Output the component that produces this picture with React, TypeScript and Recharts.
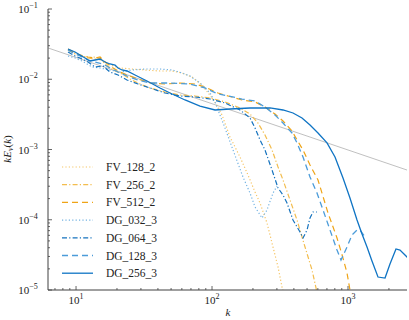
import React from 'react';
import { LineChart, Line, XAxis, YAxis, Legend } from 'recharts';

// reference slope line (k^-2/3)
const REF_K = [6.22, 2716];
const REF_E = [0.0279, 0.00051];

const FV_128_2_K = [8.73, 9.83, 11.07, 12.25, 13.8, 15.02, 17.78, 21.06, 25.81, 32.17, 41.45, 50.8, 60.18, 71.28, 84.43, 100, 110.7, 118.4, 135.6, 160.6, 183.9, 207.2, 225.4, 253.8, 280.9, 305.8, 327.1, 344.3];
const FV_128_2_E = [0.02609, 0.02364, 0.02143, 0.02007, 0.02074, 0.01879, 0.01595, 0.01446, 0.01399, 0.01354, 0.01311, 0.01311, 0.01227, 0.01076, 0.00828, 0.00541, 0.00403, 0.0031, 0.00151, 0.000782, 0.000434, 0.000248, 0.000173, 0.0000899, 0.0000409, 0.0000213, 0.000011, 0.0000077];

const FV_256_2_K = [8.73, 9.83, 10.7, 12.25, 13.8, 15.02, 16.34, 18.71, 21.79, 24.95, 29.55, 35.0, 45.11, 58.17, 74.99, 96.7, 124.6, 160.6, 190.3, 217.9, 245.3, 276.2, 305.8, 332.8, 374.6, 421.7, 483.0, 543.8, 581.8, 601.8];
const FV_256_2_E = [0.02609, 0.02288, 0.02214, 0.02007, 0.01942, 0.02007, 0.01649, 0.01354, 0.01188, 0.01008, 0.00856, 0.00751, 0.00658, 0.00597, 0.00578, 0.00541, 0.00475, 0.0039, 0.0032, 0.00238, 0.00161, 0.000984, 0.000563, 0.000368, 0.000191, 0.0000992, 0.0000409, 0.0000193, 0.0000107, 0.0000077];

const FV_512_2_K = [8.73, 9.83, 10.7, 12.25, 13.8, 15.02, 15.79, 17.78, 20.36, 23.71, 28.57, 35.0, 45.11, 58.17, 74.99, 88.8, 110.7, 131.1, 166.2, 207.2, 245.3, 290.6, 332.8, 387.4, 421.7, 466.9, 525.6, 601.8, 712.9, 830.2, 918.9, 983.1, 1034, 1088];
const FV_512_2_E = [0.02695, 0.02364, 0.02214, 0.02074, 0.02007, 0.02074, 0.01879, 0.01544, 0.01311, 0.01149, 0.01008, 0.00884, 0.00856, 0.00884, 0.00856, 0.00776, 0.00637, 0.00578, 0.00507, 0.00475, 0.00403, 0.0032, 0.002544, 0.001834, 0.00137, 0.000984, 0.000602, 0.000368, 0.000125, 0.000055, 0.0000285, 0.0000175, 0.00001, 0.0000072];

const DG_032_3_K = [8.73, 9.83, 11.07, 13.11, 15.02, 17.78, 21.06, 25.81, 32.17, 41.45, 50.8, 60.18, 68.9, 81.6, 96.7, 105.2, 110.7, 124.6, 142.7, 169.0, 190.3, 207.2, 233.2, 253.8, 280.9, 300.7];
const DG_032_3_E = [0.02143, 0.02007, 0.01819, 0.01494, 0.01446, 0.01354, 0.01268, 0.01354, 0.01399, 0.01399, 0.01354, 0.01227, 0.01112, 0.00884, 0.00637, 0.00475, 0.00365, 0.00202, 0.000984, 0.000406, 0.00024, 0.000152, 0.000106, 0.000138, 0.00024, 0.000302];

const DG_064_3_K = [8.73, 9.83, 10.7, 12.25, 13.8, 15.79, 17.78, 20.36, 23.71, 28.57, 35.0, 45.11, 58.17, 74.99, 96.7, 124.6, 160.6, 190.3, 207.2, 225.4, 245.3, 276.2, 305.8, 332.8, 356.1, 394.1, 443.7, 466.9, 499.6, 525.6, 552.9, 591.6];
const DG_064_3_E = [0.02443, 0.02143, 0.02007, 0.0176, 0.01494, 0.01544, 0.01268, 0.01149, 0.00976, 0.00856, 0.00751, 0.00637, 0.00578, 0.00559, 0.00523, 0.00459, 0.00365, 0.00281, 0.00202, 0.00137, 0.000984, 0.000511, 0.000283, 0.000225, 0.000173, 0.0000992, 0.0000669, 0.000055, 0.0000714, 0.000106, 0.000129, 0.000129];

const DG_128_3_K = [8.73, 9.83, 10.7, 12.25, 13.8, 15.79, 17.78, 20.36, 23.71, 28.57, 35.0, 49.11, 68.9, 88.8, 110.7, 131.1, 166.2, 207.2, 245.3, 290.6, 332.8, 387.4, 421.7, 466.9, 525.6, 591.6, 655.1, 737.5, 830.2, 888.3, 983.1, 1070, 1165, 1225, 1334];
const DG_128_3_E = [0.02609, 0.02288, 0.02143, 0.01879, 0.0176, 0.01649, 0.01446, 0.01268, 0.01112, 0.00976, 0.00884, 0.00884, 0.00856, 0.00751, 0.00617, 0.00578, 0.00523, 0.0049, 0.00403, 0.0031, 0.00238, 0.00172, 0.00124, 0.000782, 0.000406, 0.00024, 0.000138, 0.0000714, 0.0000371, 0.0000267, 0.0000409, 0.0000607, 0.0000714, 0.0000714, 0.0000568];

const DG_256_3_K = [8.73, 9.83, 10.7, 11.65, 12.67, 13.8, 15.02, 16.34, 17.78, 19.36, 20.36, 21.79, 23.71, 27.15, 33.27, 41.45, 49.11, 63.3, 81.6, 105.2, 135.6, 190.3, 267.0, 332.8, 394.1, 459.0, 525.6, 601.8, 700.9, 802.5, 918.9, 1034, 1165, 1268, 1380, 1501, 1662, 1872, 2036, 2254, 2412, 2581, 2809];
const DG_256_3_E = [0.02695, 0.02443, 0.02214, 0.02007, 0.01819, 0.01879, 0.01942, 0.0176, 0.01649, 0.01595, 0.01446, 0.01354, 0.01311, 0.01149, 0.00944, 0.00751, 0.00637, 0.00507, 0.00416, 0.00365, 0.00377, 0.0039, 0.0039, 0.00365, 0.00331, 0.00281, 0.00223, 0.00172, 0.00124, 0.000782, 0.000393, 0.000204, 0.0000992, 0.0000627, 0.0000409, 0.0000259, 0.0000153, 0.0000148, 0.0000234, 0.0000384, 0.0000371, 0.0000326, 0.0000276];

const X_MAJOR = [10, 100, 1000];
const X_MINOR = [7, 8, 9, 20, 30, 40, 50, 60, 70, 80, 90, 200, 300, 400, 500, 600, 700, 800, 900, 2000];
const Y_MAJOR = [1e-5, 1e-4, 1e-3, 1e-2, 1e-1];
const Y_MINOR = [
  2e-5, 3e-5, 4e-5, 5e-5, 6e-5, 7e-5, 8e-5, 9e-5,
  2e-4, 3e-4, 4e-4, 5e-4, 6e-4, 7e-4, 8e-4, 9e-4,
  2e-3, 3e-3, 4e-3, 5e-3, 6e-3, 7e-3, 8e-3, 9e-3,
  2e-2, 3e-2, 4e-2, 5e-2, 6e-2, 7e-2, 8e-2, 9e-2,
];

const X_DOMAIN = [6.22, 2716];
const Y_DOMAIN = [1e-5, 1e-1];

const zip = (ks: number[], es: number[]) => ks.map((k, i) => ({ k, e: es[i] }));

const ORANGE = '#EFA416';
const SERIES = [
  { name: 'FV_128_2', data: zip(FV_128_2_K, FV_128_2_E), color: '#F5C566', dash: '1.2 2.2', width: 1.2 },
  { name: 'FV_256_2', data: zip(FV_256_2_K, FV_256_2_E), color: '#F3BD4E', dash: '5 2.2 1.2 2.2', width: 1.2 },
  { name: 'FV_512_2', data: zip(FV_512_2_K, FV_512_2_E), color: ORANGE, dash: '6 4', width: 1.2 },
  { name: 'DG_032_3', data: zip(DG_032_3_K, DG_032_3_E), color: '#72B2E2', dash: '1.2 2.2', width: 1.2 },
  { name: 'DG_064_3', data: zip(DG_064_3_K, DG_064_3_E), color: '#1673BE', dash: '5 2.2 1.2 2.2', width: 1.2 },
  { name: 'DG_128_3', data: zip(DG_128_3_K, DG_128_3_E), color: '#4C9CD9', dash: '6 4', width: 1.3 },
  { name: 'DG_256_3', data: zip(DG_256_3_K, DG_256_3_E), color: '#0F74C4', dash: undefined, width: 1.3 },
];

const REF_DATA = zip(REF_K, REF_E);

const AX = '#404040';
const FONT = "'Liberation Serif', 'Times New Roman', serif";

const isMajor = (v: number) => Math.abs(Math.log10(v) - Math.round(Math.log10(v))) < 1e-6;
const expOf = (v: number) => {
  const n = Math.round(Math.log10(v));
  return n < 0 ? '\u2212' + Math.abs(n) : String(n);
};

const BottomTick = (props: any) => {
  const { x, y, payload } = props;
  const v = payload.value;
  const major = isMajor(v);
  return (
    <g>
      <line x1={x} x2={x} y1={y} y2={y - (major ? 4 : 2)} stroke={AX} strokeWidth={0.8} />
      {major && (
        <text x={x} y={y + 14} textAnchor="middle" fontFamily={FONT} fontSize={11} fill="#222">
          10<tspan dy={-5} fontSize={8}>{expOf(v)}</tspan>
        </text>
      )}
    </g>
  );
};

const TopTick = (props: any) => {
  const { x, y, payload } = props;
  const major = isMajor(payload.value);
  return <line x1={x} x2={x} y1={y} y2={y + (major ? 4 : 2)} stroke={AX} strokeWidth={0.8} />;
};

const LeftTick = (props: any) => {
  const { x, y, payload } = props;
  const v = payload.value;
  const major = isMajor(v);
  return (
    <g>
      <line x1={x} x2={x + (major ? 4 : 2)} y1={y} y2={y} stroke={AX} strokeWidth={0.8} />
      {major && (
        <text x={x - 20} y={y + 4} textAnchor="middle" fontFamily={FONT} fontSize={11} fill="#222">
          10<tspan dy={-5} fontSize={8}>{expOf(v)}</tspan>
        </text>
      )}
    </g>
  );
};

const RightTick = (props: any) => {
  const { x, y, payload } = props;
  const major = isMajor(payload.value);
  return <line x1={x} x2={x - (major ? 4 : 2)} y1={y} y2={y} stroke={AX} strokeWidth={0.8} />;
};

const LegendBox = () => (
  <svg width={120} height={130} style={{ display: 'block' }}>
    {SERIES.map((s, i) => {
      const cy = 7 + i * 17.7;
      return (
        <g key={s.name}>
          <line x1={4} x2={35} y1={cy} y2={cy} stroke={s.color} strokeWidth={s.width} strokeDasharray={s.dash} />
          <text x={48} y={cy + 4} fontFamily={FONT} fontSize={11.5} fill="#222">{s.name}</text>
        </g>
      );
    })}
  </svg>
);

const YLabel = () => (
  <text x={0} y={0} transform="translate(11,149) rotate(-90)" textAnchor="middle" fontFamily={FONT} fontSize={11} fill="#222">
    <tspan fontStyle="italic">kE</tspan>
    <tspan fontStyle="italic" fontSize={8} dy={2}>v</tspan>
    <tspan dy={-2}>(</tspan>
    <tspan fontStyle="italic">k</tspan>
    <tspan>)</tspan>
  </text>
);

const XLabel = () => (
  <text x={228} y={316} textAnchor="middle" fontFamily={FONT} fontSize={11} fontStyle="italic" fill="#222">k</text>
);

export default function App() {
  return (
    <div style={{ position: 'absolute', left: 0, top: 0 }}>
      <LineChart width={409} height={320} margin={{ top: 9, right: 2, bottom: 0, left: 0 }}>
        <XAxis
          dataKey="k" type="number" scale="log" domain={X_DOMAIN} allowDataOverflow
          ticks={[...X_MAJOR, ...X_MINOR]} interval={0} height={30}
          tickSize={0} tickMargin={0} tickLine={false} tick={<BottomTick />}
          axisLine={{ stroke: AX, strokeWidth: 1 }}
          label={{ content: () => <XLabel /> }}
        />
        <XAxis
          xAxisId="top" orientation="top" dataKey="k" type="number" scale="log" domain={X_DOMAIN} allowDataOverflow
          ticks={[...X_MAJOR, ...X_MINOR]} interval={0} height={0}
          tickSize={0} tickMargin={0} tickLine={false} tick={<TopTick />}
          axisLine={{ stroke: AX, strokeWidth: 1 }}
        />
        <YAxis
          type="number" scale="log" domain={Y_DOMAIN} allowDataOverflow
          ticks={[...Y_MAJOR, ...Y_MINOR]} interval={0} width={48}
          tickSize={0} tickMargin={0} tickLine={false} tick={<LeftTick />}
          axisLine={{ stroke: AX, strokeWidth: 1 }}
          label={{ content: () => <YLabel /> }}
        />
        <YAxis
          yAxisId="right" orientation="right" type="number" scale="log" domain={Y_DOMAIN} allowDataOverflow
          ticks={[...Y_MAJOR, ...Y_MINOR]} interval={0} width={0}
          tickSize={0} tickMargin={0} tickLine={false} tick={<RightTick />}
          axisLine={{ stroke: AX, strokeWidth: 1 }}
        />
        <Line data={REF_DATA} dataKey="e" stroke="#b0b0b0" strokeWidth={0.8} dot={false} isAnimationActive={false} legendType="none" />
        {SERIES.map((s) => (
          <Line
            key={s.name} name={s.name} data={s.data} dataKey="e" type="linear"
            stroke={s.color} strokeWidth={s.width} strokeDasharray={s.dash}
            dot={false} activeDot={false} isAnimationActive={false}
          />
        ))}
        <Legend
          layout="vertical" verticalAlign="middle" align="center"
          wrapperStyle={{ left: 58, top: 160, width: 120, height: 130 }}
          content={() => <LegendBox />}
        />
      </LineChart>
    </div>
  );
}
